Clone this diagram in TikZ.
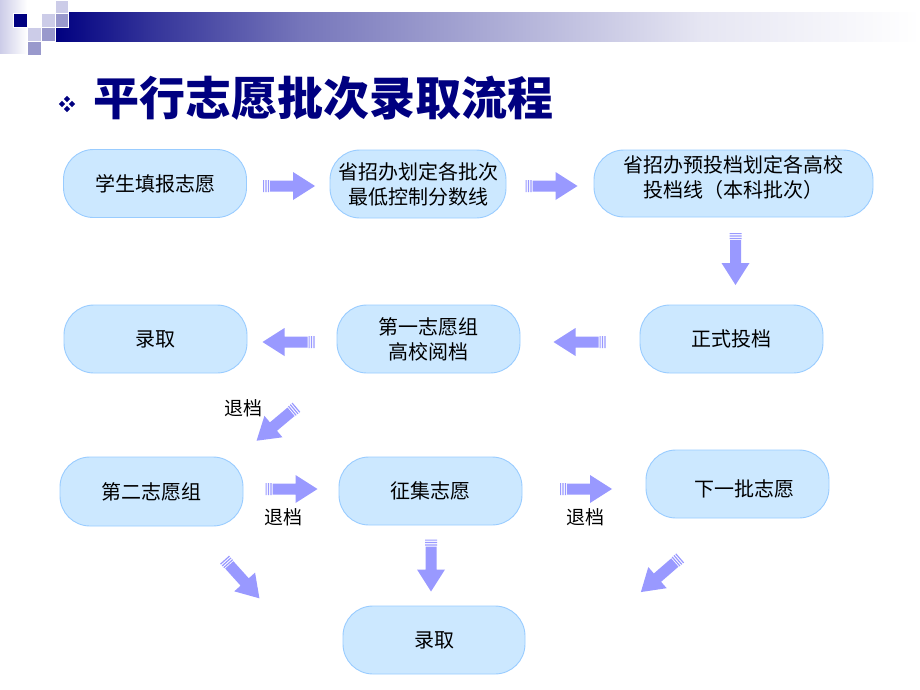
\documentclass[tikz,border=0pt]{standalone}
\usepackage{fontspec}
\setmainfont{Noto Sans CJK SC}
\definecolor{nodefill}{RGB}{204,232,255}
\definecolor{nodeline}{RGB}{153,204,255}
\definecolor{arrowc}{RGB}{153,153,255}
\definecolor{navy}{RGB}{0,0,128}
\definecolor{lav}{RGB}{204,204,232}
\definecolor{lavmid}{RGB}{153,153,204}
\tikzset{
  box/.style={draw=nodeline, fill=nodefill, line width=0.9pt, rounded corners=30pt,
    minimum width=183pt, minimum height=68pt, inner sep=0pt, align=center,
    font=\fontsize{20}{25}\selectfont, text=black},
  lbl/.style={inner sep=0pt, font=\fontsize{19}{22}\selectfont, text=black},
  barrow/.pic={
    \fill[arrowc] (-26,-6) rectangle (-24.8,6) (-23.6,-6) rectangle (-22.4,6)
      (-21.2,-6) rectangle (-20,6);
    \fill[arrowc] (-19,-5.5) -- (4,-5.5) -- (4,-14) -- (26,0) -- (4,14) -- (4,5.5) -- (-19,5.5) -- cycle;
  },
  sq/.style={draw=white, line width=0.6pt}
}
\begin{document}
\begin{tikzpicture}[x=1pt,y=-1pt]
\useasboundingbox (0,0) rectangle (920,690);
\fill[white] (0,0) rectangle (920,690);
% header
\shade[left color=lav, right color=white] (0,0) rectangle (27,54);
\shade[left color=navy, right color=navy!80!white] (55,13) rectangle (150.5,42);
\shade[left color=navy!80!white, right color=navy!54!white] (150,13) rectangle (300.5,42);
\shade[left color=navy!54!white, right color=navy!10!white] (300,13) rectangle (700.5,42);
\shade[left color=navy!10!white, right color=white] (700,13) rectangle (920,42);
\fill[navy,sq] (13,13) rectangle (27,27);
\fill[lav,sq] (55,0) rectangle (68,13);
\fill[lav,sq] (41,13) rectangle (55,27);
\fill[lavmid,sq] (55,13) rectangle (68,27);
\fill[lav,sq] (27,27) rectangle (41,41);
\fill[lavmid,sq] (41,27) rectangle (55,41);
\fill[lavmid,sq] (27,41) rectangle (41,55);
% bullet
\foreach \dx/\dy in {-5/0,5/0,0/-5,0/5}
  \fill[navy] (67+\dx-3.2,104+\dy) -- (67+\dx,104+\dy-3.2) -- (67+\dx+3.2,104+\dy) -- (67+\dx,104+\dy+3.2) -- cycle;
% title
\node[anchor=base west, inner sep=0pt, text=navy, font=\fontsize{46}{50}\selectfont\bfseries] (title) at (93,116) {平行志愿批次录取流程};
% nodes
\node[box] (n1) at (155,183.5) {学生填报志愿};
\node[box, minimum width=176pt] (n2) at (418,184) {省招办划定各批次\\最低控制分数线};
\node[box, minimum width=279pt, minimum height=67pt, text depth=13pt] (n3) at (733.5,183.5) {省招办预投档划定各高校\\投档线（本科批次）};
\node[box] (n4) at (731.5,339) {正式投档};
\node[box] (n5) at (428.5,339) {第一志愿组\\高校阅档};
\node[box] (n6) at (155.5,339) {录取};
\node[box, minimum height=69pt] (n7) at (151.5,491.5) {第二志愿组};
\node[box] (n8) at (430.5,491) {征集志愿};
\node[box, text height=27pt] (n9) at (737.5,484) {\hspace*{14pt}下一批志愿};
\node[box, minimum width=182pt] (n10) at (434,640) {录取};
% labels
\node[lbl] (l1) at (243,408) {退档};
\node[lbl] (l2) at (283,517) {退档};
\node[lbl] (l3) at (585,517) {退档};
% block arrows
\pic at (289,186) {barrow};
\pic at (551.5,186) {barrow};
\pic[rotate=-90] at (735.5,259) {barrow};
\pic[rotate=180] at (579.5,342) {barrow};
\pic[rotate=180] at (288.5,342) {barrow};
\pic[rotate=-140] at (276.5,424) {barrow};
\pic at (291.5,489) {barrow};
\pic at (586,489) {barrow};
\pic[rotate=-48] at (242,579) {barrow};
\pic[rotate=-90] at (431,565.5) {barrow};
\pic[rotate=-139] at (660.5,575) {barrow};
\end{tikzpicture}
\end{document}
